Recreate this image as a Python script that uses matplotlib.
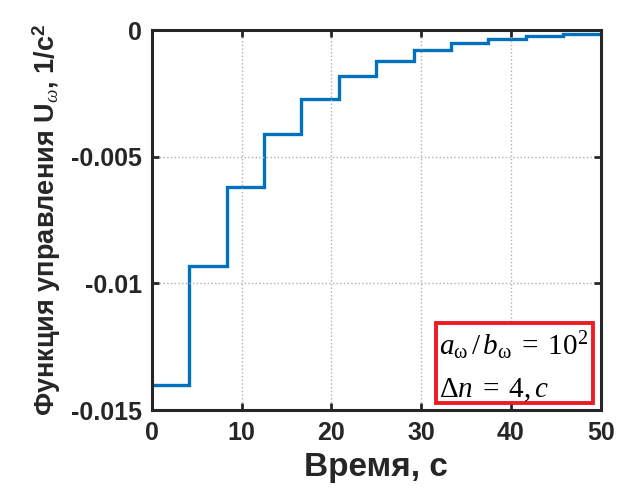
import numpy as np
import matplotlib.pyplot as plt
from matplotlib.patches import Rectangle

plt.rcParams['font.family'] = ['Liberation Sans', 'DejaVu Sans']
plt.rcParams['mathtext.fontset'] = 'custom'
plt.rcParams['mathtext.rm'] = 'Liberation Serif'
plt.rcParams['mathtext.it'] = 'Liberation Serif:italic'
plt.rcParams['mathtext.bf'] = 'Liberation Sans:bold'

# step control signal, one value per interval of 50/12 s
t_edges = np.linspace(0, 50, 13)
u_vals = [-0.0140, -0.0093, -0.0062, -0.0041, -0.0027, -0.0018,
          -0.0012, -0.00078, -0.00051, -0.00034, -0.00022, -0.00014]
x_ticks = [0, 10, 20, 30, 40, 50]
y_ticks = [-0.015, -0.01, -0.005, 0]
y_ticklabels = ['-0.015', '-0.01', '-0.005', '0']

fig = plt.figure(figsize=(6.35, 4.94), dpi=100)
ax = fig.add_axes([0.239, 0.170, 0.707, 0.769])

ax.stairs(u_vals, t_edges, color='#0072BD', lw=2.4, baseline=None)

ax.set_xlim(0, 50)
ax.set_ylim(-0.015, 0)
ax.set_xticks(x_ticks)
ax.set_yticks(y_ticks)
ax.set_yticklabels(y_ticklabels)
ax.tick_params(direction='in', length=5, width=2, labelsize=18,
               top=True, right=True, colors='#262626')
for lab in ax.get_xticklabels() + ax.get_yticklabels():
    lab.set_fontweight('bold')
    lab.set_color('#262626')
ax.tick_params(axis='x', pad=8)
ax.tick_params(axis='y', pad=7)
ax.grid(True, linestyle=':', color='#b0b0b0', lw=1)
for s in ax.spines.values():
    s.set_linewidth(2.2)
    s.set_color('#262626')

ax.set_xlabel('Время, с', fontsize=24, fontweight='bold', color='#262626', labelpad=5)
ax.set_ylabel(r'Функция управления U$_{\mathit{\omega}}$, 1/с$^{\mathbf{2}}$', fontsize=19.5,
              fontweight='bold', color='#262626', labelpad=6)

# annotation box
bx0, bx1 = 31.7, 49.1
by0, by1 = -0.01473, -0.01157
ax.add_patch(Rectangle((bx0, by0), bx1 - bx0, by1 - by0, facecolor='white',
                       edgecolor='#ED1C24', lw=2.8, zorder=5))
ax.text(32.0, -0.01244, r'$a_{\mathrm{\omega}}\,/\,b_{\mathrm{\omega}}\;=\;\mathrm{10}^{\mathrm{2}}$',
        fontsize=21, va='center', ha='left', zorder=6)
ax.text(32.0, -0.01421, r'$\mathrm{\Delta}n\;=\;\mathrm{4}, c$', fontsize=21,
        va='center', ha='left', zorder=6)

fig.savefig('out.png', dpi=100)
